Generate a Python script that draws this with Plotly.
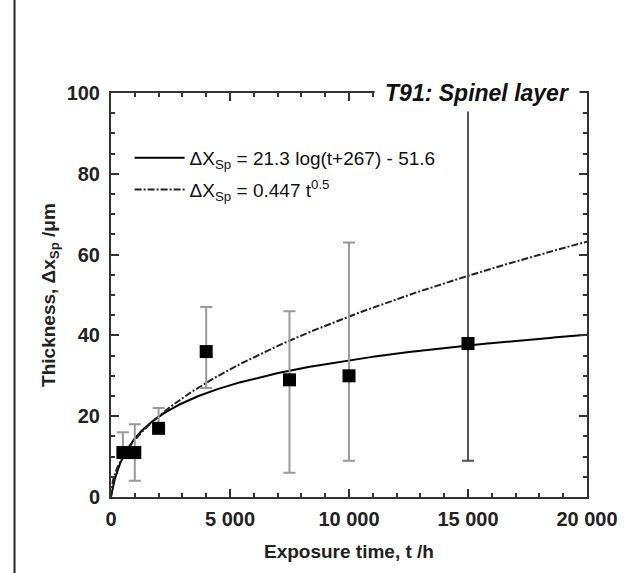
import numpy as np
import plotly.graph_objects as go

# Measured spinel-layer thickness on T91 versus exposure time
time_h = [500, 1000, 2000, 4000, 7500, 10000, 15000]
thickness_um = [11, 11, 17, 36, 29, 30, 38]
err_plus = [5, 7, 5, 11, 17, 33, 62]
err_minus = [0, 7, 0, 9, 23, 21, 29]

# Fitted laws shown in the legend
log_a, log_b, log_c = 21.3, 267, 51.6
par_k = 0.447

x_ticks = [0, 5000, 10000, 15000, 20000]
x_tick_text = ["0", "5 000", "10 000", "15 000", "20 000"]
y_ticks = [0, 20, 40, 60, 80, 100]

W, H = 630, 573
ML, MR, MT, MB = 111, 33, 93, 76
PW, PH = W - ML - MR, H - MT - MB

t_fit = np.linspace(0, 20000, 801)
fit_log = log_a * np.log10(t_fit + log_b) - log_c
fit_par = par_k * np.sqrt(t_fit)

fig = go.Figure()

fig.add_trace(go.Scatter(
    x=t_fit, y=fit_log, mode="lines",
    line=dict(color="black", width=2),
    name="ΔX<sub>Sp</sub> = 21.3 log(t+267) - 51.6",
    legendgroup="a",
))
fig.add_trace(go.Scatter(
    x=t_fit, y=fit_par, mode="lines",
    line=dict(color="#222222", width=2, dash="7px,2px,2px,2px"),
    name="ΔX<sub>Sp</sub> = 0.447 t<sup>0.5</sup>",
    legendgroup="b",
))

# Points with light error bars, the last point with a darker one
light = slice(0, 6)
fig.add_trace(go.Scatter(
    x=time_h[light], y=thickness_um[light], mode="markers",
    marker=dict(symbol="square", size=13, color="black"),
    error_y=dict(type="data", symmetric=False,
                 array=err_plus[light], arrayminus=err_minus[light],
                 color="#9a9a9a", thickness=2, width=6),
    showlegend=False,
))
fig.add_trace(go.Scatter(
    x=time_h[6:], y=thickness_um[6:], mode="markers",
    marker=dict(symbol="square", size=13, color="black"),
    error_y=dict(type="data", symmetric=False,
                 array=err_plus[6:], arrayminus=err_minus[6:],
                 color="#555555", thickness=2, width=6),
    showlegend=False,
))

axis_font = dict(family="Liberation Sans", size=20, color="#222222")
title_font = dict(family="Liberation Sans", size=19, color="#222222")

fig.update_xaxes(
    range=[0, 20000], tickvals=x_ticks, ticktext=[f"<b>{s}</b>" for s in x_tick_text],
    ticks="inside", ticklen=8, tickwidth=1.5, tickcolor="#333333",
    minor=dict(ticks="inside", ticklen=4, dtick=1000, tickwidth=1.5, tickcolor="#333333"),
    showline=True, linewidth=2, linecolor="#333333", mirror="ticks",
    showgrid=False, zeroline=False, tickfont=axis_font, ticklabelstandoff=3,
    title=dict(text="<b>Exposure time, t /h</b>", font=title_font, standoff=16),
)
fig.update_yaxes(
    range=[0, 100], tickvals=y_ticks, ticktext=[f"<b>{v}</b>" for v in y_ticks],
    ticks="inside", ticklen=8, tickwidth=1.5, tickcolor="#333333",
    minor=dict(ticks="inside", ticklen=4, dtick=5, tickwidth=1.5, tickcolor="#333333"),
    showline=True, linewidth=2, linecolor="#333333", mirror="ticks",
    showgrid=False, zeroline=False, tickfont=axis_font, ticklabelstandoff=5,
    title=dict(text="<b>Thickness, Δx<sub>Sp</sub> /μm</b>", font=title_font, standoff=6),
)

# Panel title sitting on the top frame
fig.add_annotation(
    x=(485 - ML) / PW, y=1.0, xref="paper", yref="paper",
    text="<b><i>T91: Spinel layer</i></b>", showarrow=False,
    font=dict(family="Liberation Sans", size=23, color="#111111"),
    bgcolor="white", width=202, height=34, xanchor="center", yanchor="middle",
)

# Page rule on the left
fig.add_shape(
    type="line", xref="paper", yref="paper",
    x0=(12.5 - ML) / PW, x1=(12.5 - ML) / PW, y0=-MB / PH, y1=1 + MT / PH,
    line=dict(color="#222222", width=2),
)

fig.update_layout(
    width=W, height=H,
    margin=dict(l=ML, r=MR, t=MT, b=MB),
    paper_bgcolor="white", plot_bgcolor="white",
    showlegend=True,
    legend=dict(
        x=(130 - ML) / PW, y=1 - (139 - MT) / PH, xanchor="left", yanchor="top",
        font=dict(family="Liberation Sans", size=19, color="#111111"),
        bgcolor="rgba(0,0,0,0)", tracegroupgap=4, itemwidth=50,
    ),
)

fig.write_html("out.html")
